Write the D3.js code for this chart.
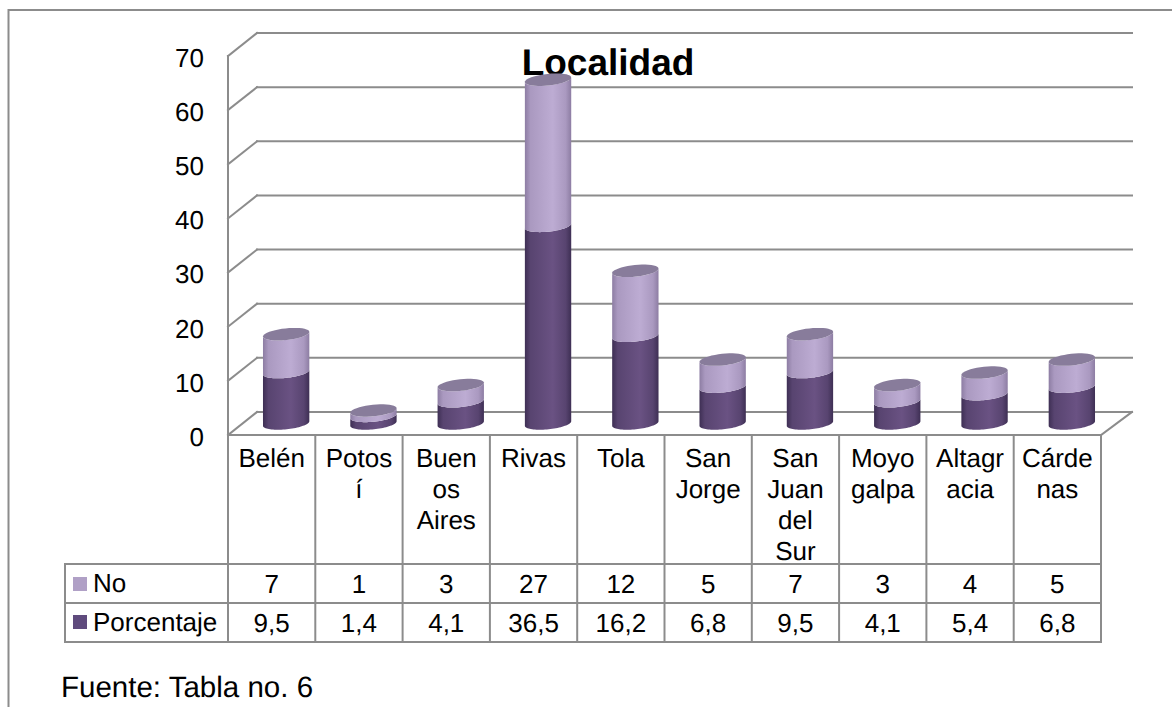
<!DOCTYPE html>
<html><head><meta charset="utf-8">
<script src="https://cdn.jsdelivr.net/npm/d3@7"></script>
<style>html,body{margin:0;background:#fff}svg{display:block}text{font-family:"Liberation Sans",Arial,sans-serif;fill:#000;text-rendering:geometricPrecision}</style>
</head><body><svg id="c" width="1172" height="707"></svg>
<script>
const categories=[["Belén"],["Potos","í"],["Buen","os","Aires"],["Rivas"],["Tola"],["San","Jorge"],["San","Juan","del","Sur"],["Moyo","galpa"],["Altagr","acia"],["Cárde","nas"]];
const noValues=[7,1,3,27,12,5,7,3,4,5];
const pctValues=[9.5,1.4,4.1,36.5,16.2,6.8,9.5,4.1,5.4,6.8];
const pctLabels=["9,5","1,4","4,1","36,5","16,2","6,8","9,5","4,1","5,4","6,8"];
const yTicks=[0,10,20,30,40,50,60,70];
const seriesNames=["No","Porcentaje"];
const title="Localidad", source="Fuente: Tabla no. 6";

const svg=d3.select("#c");
const defs=svg.append("defs");
const grid="#8c8c8c";
function grad(id,e,m){const g=defs.append("linearGradient").attr("id",id);
  [[0,e],[.12,d3.interpolateRgb(e,m)(.6)],[.6,m],[.88,d3.interpolateRgb(e,m)(.6)],[1,e]].forEach(s=>g.append("stop").attr("offset",s[0]).attr("stop-color",s[1]));}
grad("dark","#3e2f54","#6a5283");
grad("light","#8d7da3","#bdacd3");
defs.append("filter").attr("id","soft").attr("x","-5%").attr("y","-5%").attr("width","110%").attr("height","110%")
  .append("feGaussianBlur").attr("stdDeviation",0.45);

const L=228,R=1101,dx=29,dy=23;
const y=d3.scaleLinear().domain([0,70]).range([435,56]);
const x=d3.scaleBand().domain(d3.range(10)).range([L,R]);
const lines=svg.append("g").attr("filter","url(#soft)");
const line=(a,b,c,d,w=2)=>lines.append("line").attr("x1",a).attr("y1",b).attr("x2",c).attr("y2",d).attr("stroke",grid).attr("stroke-width",w).attr("stroke-linecap","square");

// frame
lines.append("path").attr("d","M8.5,707V10H1172").attr("fill","none").attr("stroke",grid).attr("stroke-width",2);

// walls
yTicks.forEach(t=>{
  line(L,y(t),L+dx,y(t)-dy);
  line(L+dx,y(t)-dy,R+dx+2,y(t)-dy);
});
line(R,y(0),R+dx+2,y(0)-dy);
line(L,y(70),L,y(0));
line(L,y(0),R,y(0));

// y axis
const ax=svg.append("g").attr("transform","translate(204,1)").call(d3.axisLeft(y).tickValues(yTicks).tickSize(0).tickPadding(0));
ax.select(".domain").remove();
ax.selectAll("text").style("font-size","26px").attr("dy","0.36em");

svg.append("text").attr("x",608).attr("y",75).attr("text-anchor","middle").style("font-size","37px").style("font-weight","bold").text(title);

// cylinders
const rx=23.3, ry=5.8, tilt=-6*Math.PI/180, off=14.5, base=11.5;
const cx=i=>x(i)+x.bandwidth()/2+off;
const yy=v=>y(v)-base;
const curve=d3.line();
function rim(c,yc,from,to){
  return d3.range(0,41).map(k=>{
    const a=from+(to-from)*k/40, ex=rx*Math.cos(a), ey=ry*Math.sin(a);
    return [c+ex*Math.cos(tilt)-ey*Math.sin(tilt), yc+ex*Math.sin(tilt)+ey*Math.cos(tilt)];
  });
}
function seg(g,c,y0,y1,fill){
  const pts=[...rim(c,y0,Math.PI,0),...rim(c,y1,0,Math.PI)];
  g.append("path").attr("fill",`url(#${fill})`).attr("d",curve(pts)+"Z");
}
categories.forEach((_,i)=>{
  const g=svg.append("g"),c=cx(i),p=pctValues[i],t=p+noValues[i];
  seg(g,c,yy(0),yy(p),"dark");
  seg(g,c,yy(p),yy(t),"light");
  g.append("path").attr("fill","#887c9b").attr("d",curve(rim(c,yy(t),0,2*Math.PI))+"Z");
});

// table
const rows=[564,603,642], left=65;
rows.forEach(r=>line(left,r,R,r));
line(left,rows[0],left,rows[2]);
d3.range(11).forEach(i=>{const X=i<10?x(i):R;line(X,y(0),X,rows[2]);});
categories.forEach((ls,i)=>{
  const c=x(i)+x.bandwidth()/2;
  ls.forEach((t,k)=>svg.append("text").attr("x",c).attr("y",467+k*31).attr("text-anchor","middle").style("font-size","26px").text(t));
  svg.append("text").attr("x",c).attr("y",593).attr("text-anchor","middle").style("font-size","26px").text(noValues[i]);
  svg.append("text").attr("x",c).attr("y",632).attr("text-anchor","middle").style("font-size","26px").text(pctLabels[i]);
});
seriesNames.forEach((n,k)=>{
  svg.append("rect").attr("x",73).attr("y",[577,615][k]).attr("width",14).attr("height",14).attr("fill",["#b0a0c6","#5f4b7d"][k]);
  svg.append("text").attr("x",93).attr("y",[592,631][k]).style("font-size","26px").text(n);
});
svg.append("text").attr("x",61).attr("y",697).style("font-size","29.5px").text(source);
</script></body></html>
